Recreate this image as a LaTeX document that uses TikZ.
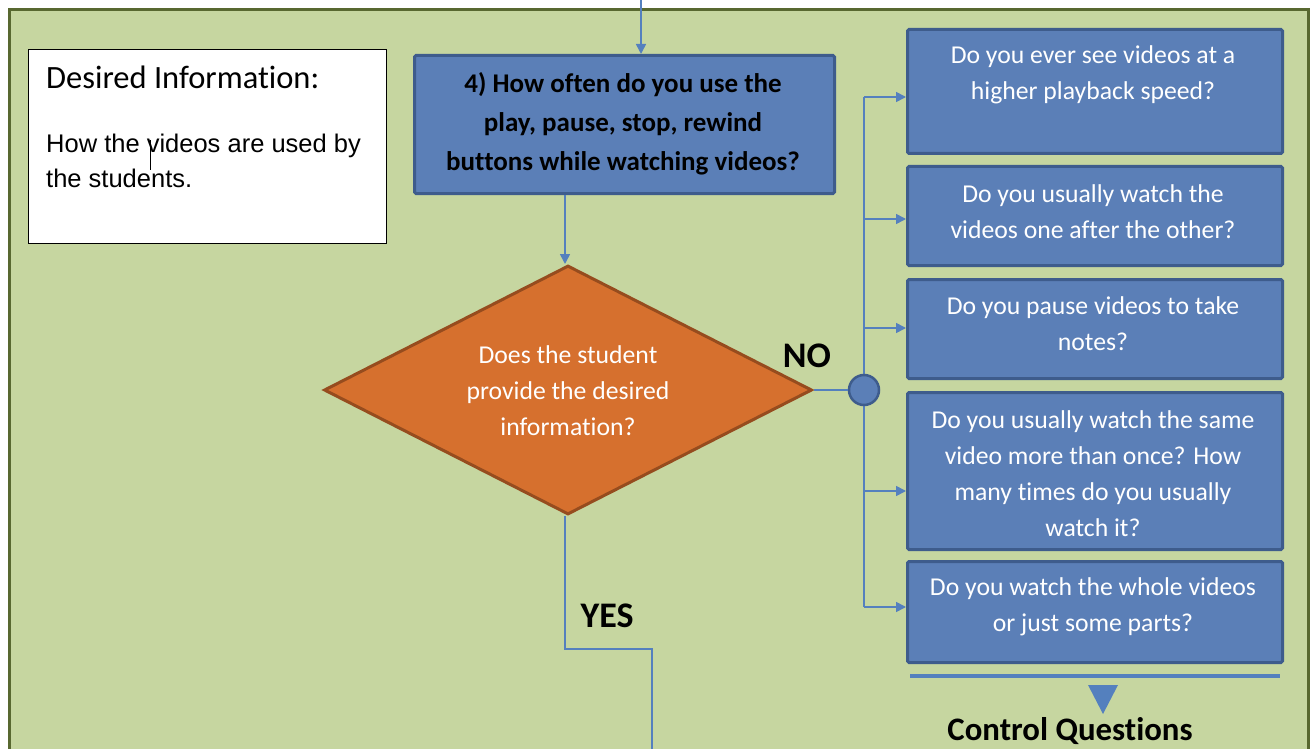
\documentclass[tikz,border=0pt]{standalone}
\usepackage{fontspec}
\setmainfont[Ligatures={NoCommon}]{Carlito}
\newfontfamily\arialfont{Liberation Sans}
\usetikzlibrary{shapes.geometric,arrows.meta}

\definecolor{panelgreen}{RGB}{198,214,160}
\definecolor{paneledge}{RGB}{88,104,48}
\definecolor{boxblue}{RGB}{91,127,183}
\definecolor{boxedge}{RGB}{62,92,140}
\definecolor{linkblue}{RGB}{84,128,190}
\definecolor{decorange}{RGB}{214,112,46}
\definecolor{decedge}{RGB}{150,76,30}

\tikzset{
  link/.style={draw=linkblue, line width=1.6pt},
  arr/.style={link, -{Triangle[length=10pt,width=10pt]}},
  qbox/.style={draw=boxedge, fill=boxblue, line width=3pt, rounded corners=1.5pt,
    inner sep=0pt, anchor=north west},
  qtext/.style={text=white, align=center, font=\fontsize{25.7}{36}\selectfont, inner sep=0pt},
  tag/.style={font=\fontsize{36}{40}\selectfont\bfseries, inner sep=0pt},
  junction/.style={circle, draw=boxedge, fill=boxblue, line width=2.5pt, minimum size=30,
    inner sep=0pt},
}

\begin{document}
\begin{tikzpicture}[x=1pt,y=-1pt]
  \useasboundingbox (0,0) rectangle (1312,749);
  \clip (0,0) rectangle (1312,749);
  \fill[white] (0,0) rectangle (1312,749);

  % background panel
  \draw[fill=panelgreen, draw=paneledge, line width=3pt] (9,10) rectangle (1308,800);

  % desired information card
  \node[draw=black, fill=white, line width=1.3pt, minimum width=358, minimum height=194,
        anchor=north west, inner sep=0pt] (info) at (28,49) {};
  \node[anchor=base west, inner sep=0pt, font=\fontsize{32.5}{36}\selectfont] (infohead)
        at (46,89) {Desired Information:};
  \node[anchor=base west, inner sep=0pt, align=left,
        font=\arialfont\fontsize{25.5}{35}\selectfont] (infobody)
        at (46,187) {How the videos are used by\\the students.};
  \draw[line width=0.8pt] (info.north west) ++(122,91) coordinate (cur) -- ++(0,30);

  % main question
  \node[qbox, minimum width=420, minimum height=138] (mainq) at (413,54) {};
  \node[align=center, inner sep=0pt, font=\fontsize{27}{39}\selectfont\bfseries] (mainqt)
        at (623,124) {4) How often do you use the\\play, pause, stop, rewind\\buttons while watching videos?};
  \coordinate (entry) at (641,0);
  \draw[arr] (entry) -- (entry |- mainq.north);

  % decision
  \node[diamond, draw=decedge, fill=decorange, line width=3pt, inner sep=0pt,
        minimum width=488, minimum height=249] (dia) at (568,390) {};
  \node[qtext] (diat) at (568,391)
        {Does the student\\provide the desired\\information?};
  \draw[arr] (mainq.south -| 565,0) -- (dia.north -| 565,0);

  % NO branch: junction and control questions
  \coordinate (jtop) at (864,97);
  \coordinate (jbot) at (864,607);

  \node[qbox, minimum width=375, minimum height=124] (q1) at (906,28) {};
  \node[qbox, minimum width=375, minimum height=99]  (q2) at (906,165) {};
  \node[qbox, minimum width=375, minimum height=99]  (q3) at (906,278) {};
  \node[qbox, minimum width=375, minimum height=157] (q4) at (906,391) {};
  \node[qbox, minimum width=375, minimum height=101] (q5) at (906,560) {};

  \node[qtext] (q1t) at (1093,75)  {Do you ever see videos at a\\higher playback speed?};
  \node[qtext] (q2t) at (1093,212) {Do you usually watch the\\videos one after the other?};
  \node[qtext] (q3t) at (1093,324) {Do you pause videos to take\\notes?};
  \node[qtext] (q4t) at (1093,474) {Do you usually watch the same\\video more than once? How\\many times do you usually\\watch it?};
  \node[qtext] (q5t) at (1093,607) {Do you watch the whole videos\\or just some parts?};

  \draw[link] (jtop) -- (jbot);
  \node[junction] (junc) at (864,390) {};
  \draw[link] (dia.east) -- (junc.west);
  \draw[arr] (jtop) -- (jtop -| q1.west);
  \draw[arr] (864,219) coordinate (b2) -- (b2 -| q2.west);
  \draw[arr] (864,328) coordinate (b3) -- (b3 -| q3.west);
  \draw[arr] (864,491) coordinate (b4) -- (b4 -| q4.west);
  \draw[arr] (jbot) -- (jbot -| q5.west);

  \node[tag] (no) at (807,356) {NO};

  % control questions footer
  \coordinate (barL) at (910,676);
  \coordinate (barR) at (1280,676);
  \draw[linkblue, line width=3.5pt] (barL) -- (barR);
  \fill[linkblue] (1088,685) -- (1118,685) -- (1103,714) -- cycle;
  \node[tag, font=\fontsize{32.8}{36}\selectfont\bfseries, anchor=base] (ctrl)
        at (1070,740) {Control Questions};

  % YES branch
  \coordinate (yesturn) at (565,649);
  \coordinate (yesout) at (652,760);
  \draw[link] (dia.south -| yesturn) -- (yesturn) -- (yesturn -| yesout) -- (yesout);
  \node[tag] (yes) at (607,616) {YES};
\end{tikzpicture}
\end{document}
